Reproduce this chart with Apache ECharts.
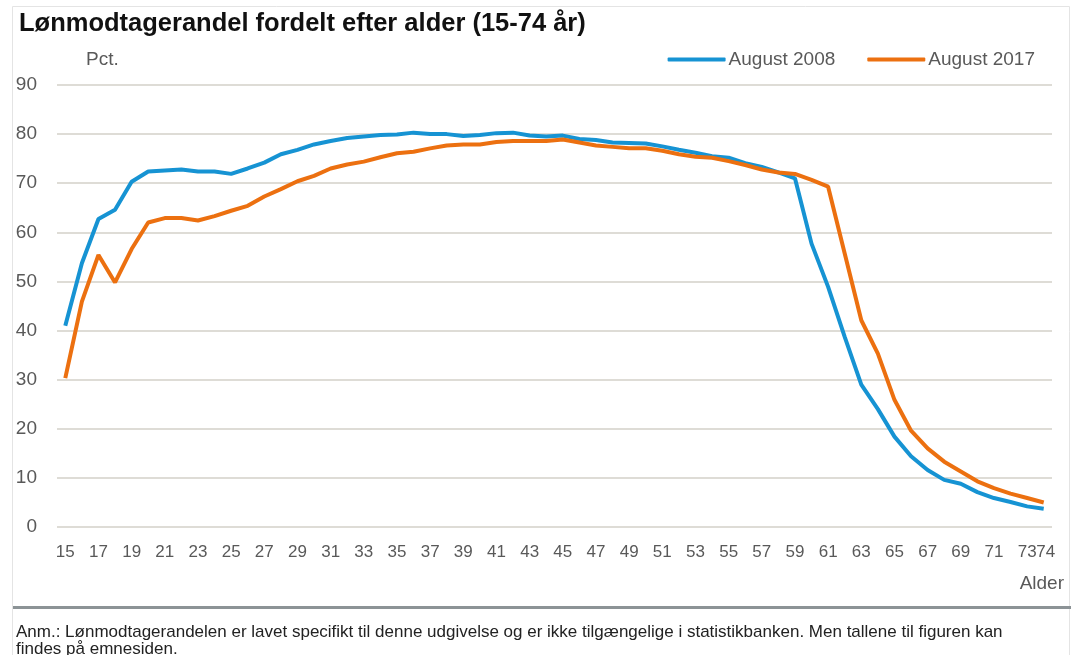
<!DOCTYPE html>
<html><head><meta charset="utf-8">
<script src="https://cdn.jsdelivr.net/npm/echarts@6/dist/echarts.min.js"></script>
<style>html,body{margin:0;padding:0;background:#fff}#c{width:1074px;height:655px}</style>
</head><body><div id="c"></div>
<script>
const ages = [];
for (let a = 15; a <= 74; a++) ages.push(String(a));
const aug2008 = [41,53.7,62.7,64.6,70.3,72.4,72.6,72.8,72.4,72.4,71.9,73,74.2,75.9,76.8,77.9,78.6,79.2,79.5,79.8,79.9,80.3,80,80,79.6,79.8,80.2,80.3,79.7,79.5,79.7,79,78.8,78.3,78.2,78.1,77.5,76.8,76.2,75.5,75.2,74.1,73.3,72.2,71,57.7,48.9,38.7,29,24,18.4,14.4,11.6,9.6,8.8,7.1,5.9,5.1,4.2,3.7];
const aug2017 = [30.3,45.9,55.4,49.8,56.6,62,62.9,62.9,62.4,63.3,64.4,65.4,67.3,68.8,70.4,71.5,73,73.8,74.4,75.3,76.1,76.4,77.1,77.7,77.9,77.9,78.4,78.6,78.6,78.6,78.9,78.3,77.7,77.4,77.1,77.1,76.6,75.9,75.4,75.2,74.5,73.7,72.8,72.2,71.9,70.7,69.3,55.7,42.1,35.3,25.9,19.6,16,13.3,11.3,9.3,7.9,6.8,5.9,5];
const yTicks = [0,10,20,30,40,50,60,70,80,90];
const titleText = 'Lønmodtagerandel fordelt efter alder (15-74 år)';
const noteText = 'Anm.: Lønmodtagerandelen er lavet specifikt til denne udgivelse og er ikke tilgængelige i statistikbanken. Men tallene til figuren kan\nfindes på emnesiden.';

const SANS = "'Liberation Sans', Arial, sans-serif";
const grey = '#595959';
const last = ages.length - 1;
const xLabel = {margin: 17, color: grey, fontFamily: SANS, fontSize: 17, hideOverlap: false};
const chart = echarts.init(document.getElementById('c'), null, {renderer: 'canvas'});
chart.setOption({
  animation: false,
  backgroundColor: '#fff',
  title: {text: titleText, left: 14, top: 6,
    textStyle: {fontFamily: SANS, fontWeight: 'bold', fontSize: 25.5, color: '#111'}},
  legend: {
    right: 34, top: 45, itemGap: 32, itemWidth: 58, itemHeight: 4, icon: 'roundRect',
    textStyle: {fontFamily: SANS, fontSize: 19, color: grey, padding: [0,0,0,-2]},
    data: ['August 2008', 'August 2017']
  },
  grid: {left: 57, right: 22, top: 85, bottom: 128, containLabel: false},
  xAxis: [{
    type: 'category', data: ages, boundaryGap: true,
    axisLine: {show: false}, axisTick: {show: false},
    axisLabel: Object.assign({interval: (i) => i % 2 === 0 && i !== last}, xLabel)
  }, {
    type: 'category', data: ages, boundaryGap: true, position: 'bottom',
    axisLine: {show: false}, axisTick: {show: false}, splitLine: {show: false},
    axisLabel: Object.assign({interval: (i) => i === last, padding: [0,0,0,4]}, xLabel)
  }],
  yAxis: {
    type: 'value', min: 0, max: 90, interval: 10,
    axisLine: {show: false}, axisTick: {show: false},
    axisLabel: {color: grey, fontFamily: SANS, fontSize: 19, margin: 20,
      formatter: (v) => yTicks.includes(v) ? String(v) : ''},
    splitLine: {lineStyle: {color: '#dedcd6', width: 2}}
  },
  series: [
    {name: 'August 2008', type: 'line', data: aug2008, showSymbol: false, symbol: 'none',
      lineStyle: {width: 4, color: '#1693d3'}, itemStyle: {color: '#1693d3'}},
    {name: 'August 2017', type: 'line', data: aug2017, showSymbol: false, symbol: 'none',
      lineStyle: {width: 4, color: '#ec7010'}, itemStyle: {color: '#ec7010'}}
  ],
  graphic: [
    {type: 'rect', shape: {x: 12.5, y: 6.5, width: 1057, height: 700}, style: {fill: null, stroke: '#e4e4e4', lineWidth: 1}, silent: true},
    {type: 'rect', shape: {x: 13, y: 606, width: 1058, height: 3}, style: {fill: '#8c9396'}, silent: true},
    {type: 'text', left: 86, top: 50, style: {text: 'Pct.', fontFamily: SANS, fontSize: 19, fill: grey}},
    {type: 'text', right: 10, top: 574, style: {text: 'Alder', fontFamily: SANS, fontSize: 19, fill: grey}},
    {type: 'text', left: 16, top: 624, style: {text: noteText, fontFamily: SANS, fontSize: 17, fill: '#222', lineHeight: 17}}
  ]
});
</script></body></html>
